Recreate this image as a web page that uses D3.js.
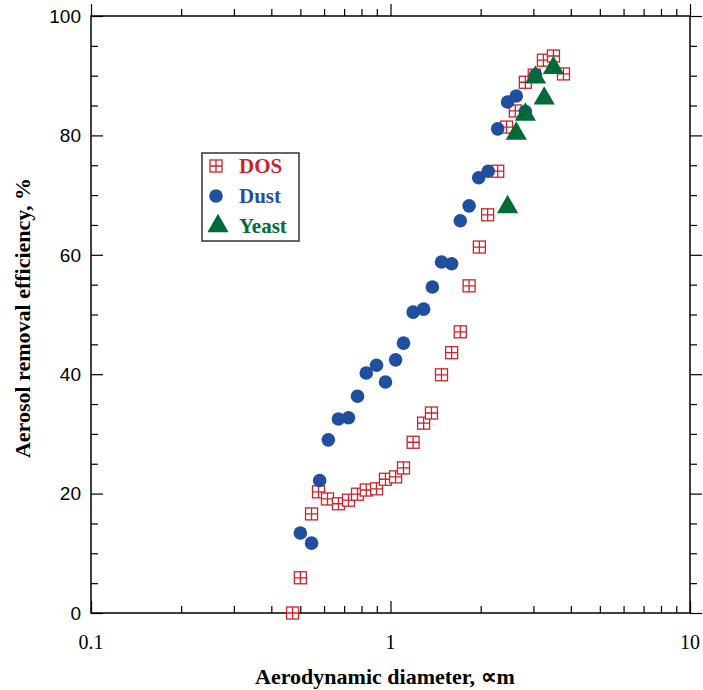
<!DOCTYPE html>
<meta charset="utf-8">
<title>aerosol removal efficiency</title>
<style>
body {
  margin: 0px;
  background: #fff;
}
.frame {
  fill: none;
  stroke: #000;
  stroke-width: 1.5px;
}
.axis path {
  display: none;
}
.axis line {
  stroke: #000;
  stroke-width: 1.2px;
}
.ytick text {
  font-family: "Liberation Sans", Arial, sans-serif;
  font-size: 19px;
}
.xtick text {
  font-family: "Liberation Serif", "Times New Roman", serif;
  font-size: 20px;
}
.title {
  font-family: "Liberation Serif", "Times New Roman", serif;
  font-weight: bold;
  font-size: 22px;
}
.legend text {
  font-family: "Liberation Serif", "Times New Roman", serif;
  font-weight: bold;
  font-size: 21px;
}
</style>

<script src="https://d3js.org/d3.v7.min.js"></script>

<body>
<script>
var width = 703, height = 690;
var margin = {left: 91, right: 13, top: 16, bottom: 77};

// DOS series (diameter in um, efficiency in %)
var dosX = [0.471, 0.50, 0.545, 0.575, 0.616, 0.67, 0.724, 0.776, 0.83, 0.898,
            0.962, 1.04, 1.105, 1.19, 1.29, 1.37, 1.48, 1.6, 1.71, 1.83,
            1.98, 2.11, 2.28, 2.44, 2.61, 2.82, 3.02, 3.24, 3.5, 3.78];
var dosY = [0, 5.9, 16.6, 20.3, 19.1, 18.3, 18.9, 19.9, 20.6, 20.8,
            22.4, 22.8, 24.3, 28.6, 31.8, 33.5, 39.9, 43.6, 47.1, 54.8,
            61.3, 66.7, 74.0, 81.4, 84.1, 88.9, 90.1, 92.6, 93.3, 90.3];

// Dust series
var dustX = [0.50, 0.545, 0.58, 0.62, 0.67, 0.724, 0.776, 0.83, 0.898, 0.962,
             1.04, 1.105, 1.19, 1.29, 1.38, 1.48, 1.6, 1.71, 1.83, 1.97,
             2.12, 2.28, 2.46, 2.63, 2.82, 3.05];
var dustY = [13.4, 11.7, 22.2, 29.0, 32.5, 32.7, 36.3, 40.2, 41.5, 38.7,
             42.4, 45.2, 50.4, 50.9, 54.6, 58.8, 58.5, 65.7, 68.2, 72.9,
             74.0, 81.1, 85.6, 86.6, 84.0, 90.1];

// Yeast series
var yeastX = [2.46, 2.63, 2.82, 3.05, 3.26, 3.5];
var yeastY = [68.0, 80.3, 83.5, 89.7, 86.2, 91.3];

var xTicks = [0.1, 1, 10];
var xTickLabels = ["0.1", "1", "10"];
var yTicks = [0, 20, 40, 60, 80, 100];

var red = "#c9252c", blue = "#1f4f9e", green = "#006b38";

var svg = d3.select("body").append("svg")
    .attr("width", width)
    .attr("height", height);

var x = d3.scaleLog()
    .domain([0.1, 10])
    .range([margin.left, width - margin.right]);
var y = d3.scaleLinear()
    .domain([0, 100])
    .range([height - margin.bottom, margin.top]);

var x0 = x.range()[0], x1 = x.range()[1];
var y0 = y.range()[0], y1 = y.range()[1];

// minor ticks
var xMinor = [];
[0.1, 1].forEach(function(d) {
  for (var i = 2; i < 10; i++) xMinor.push(d * i);
});
var yMinor = d3.range(0, 101, 5).filter(function(d) { return d % 20 != 0; });

function drawX(g, pos, dir) {
  var s = dir == "axisBottom" ? 1 : -1;
  g.append("g").attr("class", "axis")
    .attr("transform", "translate(0," + pos + ")")
    .call(d3[dir](x).tickValues(xMinor).tickSize(-7 * s).tickFormat(""));
  g.append("g").attr("class", "axis")
    .attr("transform", "translate(0," + pos + ")")
    .call(d3[dir](x).tickValues(xTicks).tickSize(-12 * s).tickFormat(""));
}
function drawY(g, pos, dir) {
  var s = dir == "axisLeft" ? 1 : -1;
  g.append("g").attr("class", "axis")
    .attr("transform", "translate(" + pos + ",0)")
    .call(d3[dir](y).tickValues(yMinor).tickSize(-7 * s).tickFormat(""));
  g.append("g").attr("class", "axis")
    .attr("transform", "translate(" + pos + ",0)")
    .call(d3[dir](y).tickValues(yTicks).tickSize(-12 * s).tickFormat(""));
}

var axes = svg.append("g");
drawX(axes, y0, "axisBottom");
drawX(axes, y1, "axisTop");
drawY(axes, x0, "axisLeft");
drawY(axes, x1, "axisRight");

svg.append("rect")
    .attr("class", "frame")
    .attr("x", x0).attr("y", y1)
    .attr("width", x1 - x0).attr("height", y0 - y1);

// tick labels
svg.append("g").attr("class", "ytick")
  .selectAll("text")
  .data(yTicks)
  .enter().append("text")
    .attr("x", x0 - 10)
    .attr("y", function(d) { return y(d); })
    .attr("dy", "0.36em")
    .attr("text-anchor", "end")
    .text(function(d) { return d; });

svg.append("g").attr("class", "xtick")
  .selectAll("text")
  .data(xTicks)
  .enter().append("text")
    .attr("x", function(d) { return x(d); })
    .attr("y", y0 + 36)
    .attr("text-anchor", "middle")
    .text(function(d, i) { return xTickLabels[i]; });

// axis titles
svg.append("text")
    .attr("class", "title")
    .attr("x", 385)
    .attr("y", 684)
    .attr("text-anchor", "middle")
    .text("Aerodynamic diameter, \u221dm");

svg.append("text")
    .attr("class", "title")
    .attr("transform", "translate(30,318) rotate(-90)")
    .attr("text-anchor", "middle")
    .text("Aerosol removal efficiency, %");

// markers
function dosMarker(sel, cx, cy) {
  var s = 6;
  var g = sel.append("g").attr("transform", "translate(" + cx + "," + cy + ")");
  g.append("rect")
    .attr("x", -s).attr("y", -s).attr("width", 2 * s).attr("height", 2 * s)
    .attr("fill", "#fff").attr("stroke", red).attr("stroke-width", 1.3);
  g.append("path")
    .attr("d", "M" + (-s) + ",0H" + s + "M0," + (-s) + "V" + s)
    .attr("stroke", red).attr("stroke-width", 1.3);
}

var dots = svg.append("g");

var dos = d3.zip(dosX, dosY);
var dust = d3.zip(dustX, dustY);
var yeast = d3.zip(yeastX, yeastY);

dos.forEach(function(d) { dosMarker(dots, x(d[0]), y(d[1])); });

dots.selectAll("circle.dust")
    .data(dust)
  .enter().append("circle")
    .attr("class", "dust")
    .attr("cx", function(d) { return x(d[0]); })
    .attr("cy", function(d) { return y(d[1]); })
    .attr("r", 6.8)
    .attr("fill", blue);

var tri = d3.symbol().type(d3.symbolTriangle).size(195);
dots.selectAll("path.yeast")
    .data(yeast)
  .enter().append("path")
    .attr("class", "yeast")
    .attr("transform", function(d) { return "translate(" + x(d[0]) + "," + y(d[1]) + ")"; })
    .attr("d", tri)
    .attr("fill", green);

// legend
var legend = svg.append("g").attr("class", "legend");
legend.append("rect")
    .attr("x", 202).attr("y", 153)
    .attr("width", 97).attr("height", 88)
    .attr("fill", "#fff")
    .attr("stroke", "#333").attr("stroke-width", 1.5);

dosMarker(legend, 216, 166);
legend.append("circle").attr("cx", 216).attr("cy", 196).attr("r", 6.8).attr("fill", blue);
legend.append("path").attr("transform", "translate(218,226)").attr("d", tri).attr("fill", green);

var names = ["DOS", "Dust", "Yeast"];
var colors = [red, blue, green];
legend.selectAll("text")
    .data(names)
  .enter().append("text")
    .attr("x", 239)
    .attr("y", function(d, i) { return 173 + i * 30; })
    .attr("fill", function(d, i) { return colors[i]; })
    .text(function(d) { return d; });
</script>
